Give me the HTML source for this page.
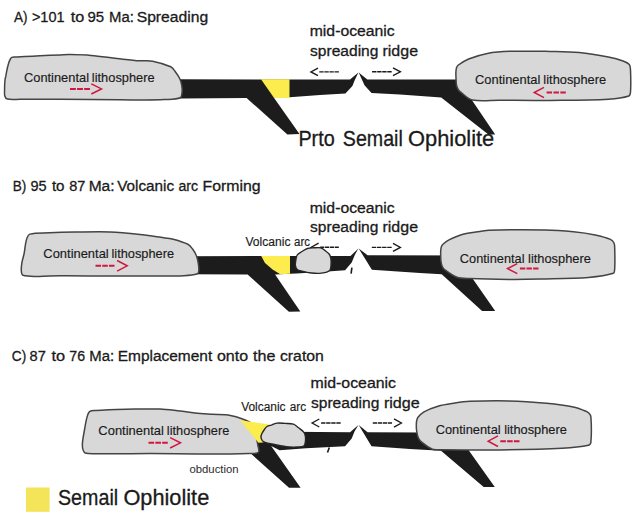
<!DOCTYPE html>
<html><head><meta charset="utf-8">
<style>
html,body{margin:0;padding:0;background:#fff;}
body{width:644px;height:525px;overflow:hidden;}
svg{display:block;}
text{font-family:"Liberation Sans",sans-serif;fill:#1a1a1a;stroke:#1a1a1a;stroke-width:0.3;}
.cont{fill:#d8d8d8;stroke:#444;stroke-width:1.5;stroke-linejoin:round;}
.arc{stroke:#262626;stroke-width:1.4;}
.slab{fill:#1c1c1c;}
text.med{stroke-width:0.15;}
text.thin{stroke-width:0;fill:#2a2a2a;}
.yel{fill:#fcec4e;}
.ar{fill:none;stroke:#1a1a1a;stroke-width:1.35;}
.da{fill:none;stroke:#1a1a1a;stroke-width:1.4;}
.rar{fill:none;stroke:#d0173f;stroke-width:1.5;}
.rda{fill:none;stroke:#d0173f;stroke-width:2;}
</style></head>
<body>
<svg width="644" height="525" viewBox="0 0 644 525">
<text x="13.92" y="22.4" font-size="15.2" textLength="13.49" lengthAdjust="spacingAndGlyphs">A)</text><text x="31.92" y="22.4" font-size="15.2" textLength="32.62" lengthAdjust="spacingAndGlyphs">&gt;101</text><text x="70.70" y="22.4" font-size="15.2" textLength="13.55" lengthAdjust="spacingAndGlyphs">to</text><text x="87.51" y="22.4" font-size="15.2" textLength="16.69" lengthAdjust="spacingAndGlyphs">95</text><text x="109.02" y="22.4" font-size="15.2" textLength="24.84" lengthAdjust="spacingAndGlyphs">Ma:</text><text x="136.68" y="22.4" font-size="15.2" textLength="71.49" lengthAdjust="spacingAndGlyphs">Spreading</text>
<path class="slab" d="M175.0,79.2 L350.0,79.6 L358.4,72.5 L354.8,80.0 L352.4,86.0 L345.4,93.5 L320.0,95.0 L289.5,97.3 L274.1,98.0 L299.5,133.9 L287.4,134.4 L246.6,98.0 L181.0,98.6 L175.0,98.6 Z"/>
<path class="yel" d="M261.0,79.2 L289.5,79.2 L289.5,98.0 L274.1,98.0 Z"/>
<path class="slab" d="M358.7,72.5 L367.3,79.6 L480.0,79.4 L480.0,99.4 L471.5,99.5 L495.2,134.4 L488.4,134.4 L441.2,97.4 L400.0,94.5 L371.5,93.1 L364.5,85.2 Z"/>
<path class="cont" d="M10.8,58.2 C11.4,57.3 12.9,57.1 14.0,57.0 C17.6,56.6 21.3,56.7 25.0,56.5 C30.0,56.3 35.0,56.0 40.0,55.8 C46.7,55.5 53.3,55.2 60.0,54.9 C63.3,54.8 66.7,54.5 70.0,54.6 C77.0,54.7 84.0,54.8 91.0,55.4 C99.7,56.1 108.3,57.5 117.0,58.5 C124.7,59.3 132.3,60.2 140.0,60.8 C144.2,61.1 148.5,60.4 152.6,61.2 C158.7,62.4 165.1,64.2 170.7,66.8 C172.8,67.8 174.1,70.1 175.5,72.0 C177.1,74.1 178.7,76.3 179.8,78.7 C180.8,80.8 181.3,83.1 181.7,85.3 C182.1,87.5 182.4,89.8 182.1,92.0 C181.9,94.0 181.8,97.0 180.2,97.7 C175.8,99.6 169.4,99.2 164.0,99.6 C157.7,100.0 151.3,100.0 145.0,100.0 C136.7,100.0 128.3,99.9 120.0,99.8 C100.0,99.6 80.0,99.4 60.0,99.3 C46.7,99.2 33.3,99.4 20.0,99.3 C15.8,99.3 11.3,99.9 7.5,99.1 C6.2,98.8 5.1,97.3 4.8,96.0 C4.2,93.6 4.6,90.7 4.6,88.0 C4.6,85.3 4.7,82.6 5.0,80.0 C5.1,78.7 5.5,77.5 5.8,76.2 C6.5,72.7 6.9,69.1 7.9,65.7 C8.6,63.1 9.4,60.2 10.8,58.2 Z"/>
<path class="cont" d="M455.9,72.0 C456.0,70.5 456.1,69.0 456.6,67.6 C456.9,66.6 457.6,65.6 458.4,65.0 C461.6,62.7 465.0,60.5 468.6,59.0 C474.6,56.6 480.9,54.6 487.3,53.4 C494.7,52.0 502.4,51.5 510.0,51.3 C523.3,50.9 536.7,51.2 550.0,51.4 C559.7,51.6 569.5,51.6 579.2,52.5 C589.0,53.4 598.7,55.1 608.4,57.0 C613.3,58.0 618.3,59.3 623.0,61.0 C625.2,61.8 627.9,62.8 629.3,64.5 C630.4,65.8 630.4,68.1 630.5,70.0 C630.8,77.3 631.0,84.8 630.5,92.0 C630.4,93.4 630.1,95.6 628.8,96.0 C622.7,98.0 615.3,98.8 608.4,99.2 C589.0,100.3 569.5,100.2 550.0,100.4 C533.3,100.6 516.7,100.3 500.0,100.2 C490.8,100.1 481.0,101.6 472.3,99.9 C468.0,99.0 464.6,95.1 461.0,92.4 C459.9,91.6 458.9,90.6 458.2,89.5 C457.4,88.2 456.8,86.6 456.5,85.0 C456.1,82.7 456.1,80.3 456.0,78.0 C455.9,76.0 455.8,74.0 455.9,72.0 Z"/>
<text x="23.97" y="82.2" font-size="12.2" textLength="65.04" lengthAdjust="spacingAndGlyphs" class="med">Continental</text><text x="91.87" y="82.2" font-size="12.2" textLength="62.72" lengthAdjust="spacingAndGlyphs" class="med">lithosphere</text>
<text x="475.07" y="83.9" font-size="12.2" textLength="65.24" lengthAdjust="spacingAndGlyphs" class="med">Continental</text><text x="543.37" y="83.9" font-size="12.2" textLength="62.82" lengthAdjust="spacingAndGlyphs" class="med">lithosphere</text>
<path class="rda" d="M70.0,88.9 H90.0" stroke-dasharray="5.87 1.20"/><path class="rar" d="M91.3,83.8 L101.5,88.9 L91.3,94.0"/>
<path class="rar" d="M544.0,87.3 L534.2,92.5 L544.0,97.7"/><path class="rda" d="M546.6,92.5 H565.8" stroke-dasharray="5.47 1.40"/>
<text x="309.72" y="36.2" font-size="15.2" textLength="85.02" lengthAdjust="spacingAndGlyphs">mid-oceanic</text>
<text x="310.04" y="55.9" font-size="15.2" textLength="68.39" lengthAdjust="spacingAndGlyphs">spreading</text><text x="382.51" y="55.9" font-size="15.2" textLength="35.55" lengthAdjust="spacingAndGlyphs">ridge</text>
<path class="ar" d="M318.0,68.1 L310.9,71.9 L318.0,75.7"/><path class="da" d="M319.3,71.9 H338.9" stroke-dasharray="4.37 0.70"/>
<path class="da" d="M372.1,71.8 H391.7" stroke-dasharray="4.37 0.70"/><path class="ar" d="M393.0,67.9 L400.4,71.8 L393.0,75.7"/>
<text x="298.40" y="145.7" font-size="21.2" textLength="36.37" lengthAdjust="spacingAndGlyphs">Prto</text><text x="342.80" y="145.7" font-size="21.2" textLength="60.04" lengthAdjust="spacingAndGlyphs">Semail</text><text x="408.13" y="145.7" font-size="21.2" textLength="86.12" lengthAdjust="spacingAndGlyphs">Ophiolite</text>
<text x="12.80" y="191.2" font-size="15.2" textLength="13.61" lengthAdjust="spacingAndGlyphs">B)</text><text x="30.52" y="191.2" font-size="15.2" textLength="16.17" lengthAdjust="spacingAndGlyphs">95</text><text x="51.90" y="191.2" font-size="15.2" textLength="12.62" lengthAdjust="spacingAndGlyphs">to</text><text x="69.22" y="191.2" font-size="15.2" textLength="16.17" lengthAdjust="spacingAndGlyphs">87</text><text x="88.68" y="191.2" font-size="15.2" textLength="25.93" lengthAdjust="spacingAndGlyphs">Ma:</text><text x="117.20" y="191.2" font-size="15.2" textLength="56.98" lengthAdjust="spacingAndGlyphs">Volcanic</text><text x="178.43" y="191.2" font-size="15.2" textLength="19.67" lengthAdjust="spacingAndGlyphs">arc</text><text x="202.46" y="191.2" font-size="15.2" textLength="58.08" lengthAdjust="spacingAndGlyphs">Forming</text>
<path class="slab" d="M190.0,256.2 L350.5,255.9 L358.4,248.5 L355.0,254.5 L351.7,262.5 L345.1,270.3 L331.0,271.3 L296.5,273.5 L290.0,273.8 L275.1,274.5 L300.3,311.5 L288.9,311.8 L247.6,274.4 L190.0,274.3 Z"/>
<path class="yel" d="M261.2,255.9 L290.0,255.9 L290.0,273.8 L280.2,274.3 L272.6,269.5 L265.0,262.9 Z"/>
<path class="slab" d="M358.7,248.5 L367.6,255.2 L480.0,255.5 L480.0,278.0 L472.2,278.0 L495.2,310.9 L482.1,310.9 L441.7,274.2 L420.0,273.0 L371.9,269.7 Z"/>
<path class="cont" d="M30.0,234.1 C35.6,232.4 42.9,233.1 49.3,232.8 C57.9,232.4 66.4,232.2 75.0,232.1 C86.7,231.9 98.4,231.5 110.0,231.9 C120.0,232.3 130.0,233.4 140.0,234.5 C148.4,235.4 156.7,236.9 165.0,238.0 C167.0,238.3 169.1,238.2 171.0,238.7 C176.7,240.3 182.7,241.8 187.9,244.3 C189.9,245.2 191.3,247.2 192.6,249.0 C194.1,251.0 195.5,253.3 196.4,255.7 C197.4,258.1 197.9,260.7 198.3,263.3 C198.7,265.8 199.0,268.5 198.8,271.0 C198.7,272.0 198.3,273.5 197.4,273.8 C193.4,275.1 188.5,275.5 184.0,275.7 C172.7,276.2 161.3,276.0 150.0,276.0 C136.7,276.1 123.3,276.0 110.0,276.0 C93.3,276.0 76.7,275.7 60.0,275.8 C52.6,275.8 45.3,276.5 37.9,276.4 C32.9,276.3 27.2,276.7 23.0,275.3 C21.6,274.8 21.4,272.3 21.3,270.7 C21.1,268.1 21.5,265.3 21.9,262.7 C22.4,259.6 23.5,256.7 24.1,253.6 C25.0,249.1 25.1,244.3 26.4,239.9 C27.0,237.8 28.0,234.7 30.0,234.1 Z"/>
<path class="cont" d="M440.7,251.0 C440.8,249.7 440.9,248.3 441.3,247.0 C441.6,246.0 442.2,244.9 443.0,244.2 C444.8,242.6 446.8,241.0 449.0,239.9 C453.5,237.7 458.2,235.6 463.0,234.3 C468.5,232.8 474.3,232.5 480.0,231.6 C483.0,231.1 486.0,230.3 489.0,230.2 C507.6,229.7 526.3,229.6 545.0,230.0 C554.5,230.2 564.0,230.9 573.5,231.8 C580.8,232.5 588.1,233.5 595.2,235.0 C600.4,236.1 605.7,237.4 610.4,239.4 C611.9,240.0 613.3,241.6 614.0,243.0 C614.7,244.4 614.7,246.3 614.7,248.0 C614.9,254.8 615.1,261.7 614.7,268.5 C614.6,270.2 614.7,272.8 613.3,273.3 C606.0,275.8 596.8,276.8 588.5,277.4 C572.4,278.7 556.2,278.6 540.0,279.0 C529.7,279.3 519.5,279.5 509.2,279.4 C496.1,279.3 483.0,279.1 470.0,278.6 C465.6,278.4 461.0,278.6 457.0,277.2 C452.5,275.6 448.4,272.4 444.5,269.5 C443.4,268.7 442.7,267.4 442.2,266.2 C441.6,264.7 441.2,263.1 441.0,261.5 C440.7,259.7 440.8,257.8 440.7,256.0 C440.7,254.3 440.6,252.7 440.7,251.0 Z"/>
<text x="43.37" y="257.6" font-size="12.2" textLength="65.34" lengthAdjust="spacingAndGlyphs" class="med">Continental</text><text x="111.47" y="257.6" font-size="12.2" textLength="62.62" lengthAdjust="spacingAndGlyphs" class="med">lithosphere</text>
<text x="459.88" y="262.8" font-size="12.2" textLength="64.63" lengthAdjust="spacingAndGlyphs" class="med">Continental</text><text x="528.07" y="262.8" font-size="12.2" textLength="62.82" lengthAdjust="spacingAndGlyphs" class="med">lithosphere</text>
<path class="rda" d="M95.5,265.8 H114.5" stroke-dasharray="5.53 1.20"/><path class="rar" d="M117.1,260.5 L127.2,265.8 L117.1,271.1"/>
<path class="rar" d="M517.3,263.6 L507.5,268.6 L517.3,273.6"/><path class="rda" d="M519.9,268.6 H538.5" stroke-dasharray="5.40 1.20"/>
<text x="309.72" y="212.6" font-size="15.2" textLength="85.02" lengthAdjust="spacingAndGlyphs">mid-oceanic</text>
<text x="310.04" y="232.3" font-size="15.2" textLength="68.39" lengthAdjust="spacingAndGlyphs">spreading</text><text x="382.51" y="232.3" font-size="15.2" textLength="35.55" lengthAdjust="spacingAndGlyphs">ridge</text>
<path class="ar" d="M318.6,243.2 L310.9,247.4 L318.6,251.6"/><path class="da" d="M320.2,247.2 H338.8" stroke-dasharray="4.13 0.70"/>
<path class="da" d="M371.8,247.4 H391.7" stroke-dasharray="4.45 0.70"/><path class="ar" d="M393.0,243.4 L400.4,247.4 L393.0,251.4"/>
<path class="cont arc" d="M295.4,265.6 C295.1,263.9 295.5,262.0 295.8,260.2 C296.1,258.4 296.3,256.2 297.3,254.8 C298.3,253.3 300.4,252.5 302.0,251.5 C303.7,250.4 305.5,249.1 307.4,248.5 C309.3,247.9 311.5,247.9 313.6,247.8 C315.9,247.7 318.4,247.3 320.6,247.8 C322.0,248.1 323.3,249.2 324.5,250.1 C326.1,251.3 327.9,252.5 329.1,254.0 C330.0,255.1 330.4,256.5 330.7,257.9 C331.1,259.6 331.2,261.5 331.1,263.3 C331.0,265.4 331.1,267.8 330.3,269.5 C329.7,270.7 328.2,271.7 326.8,272.2 C324.4,273.0 321.7,273.3 319.1,273.4 C316.5,273.5 313.9,273.3 311.3,273.0 C308.2,272.6 305.1,271.9 302.0,271.1 C300.4,270.7 298.5,270.5 297.3,269.5 C296.3,268.6 295.6,267.0 295.4,265.6 Z"/>
<text x="245.45" y="246.1" font-size="12" textLength="45.00" lengthAdjust="spacingAndGlyphs" class="med">Volcanic</text><text x="294.06" y="246.1" font-size="12" textLength="15.96" lengthAdjust="spacingAndGlyphs" class="med">arc</text>
<path d="M351.1,273.6 L351.9,267.6" stroke="#1c1c1c" stroke-width="1.6"/>
<text x="11.85" y="361.4" font-size="15.2" textLength="14.35" lengthAdjust="spacingAndGlyphs">C)</text><text x="29.62" y="361.4" font-size="15.2" textLength="16.27" lengthAdjust="spacingAndGlyphs">87</text><text x="51.40" y="361.4" font-size="15.2" textLength="13.65" lengthAdjust="spacingAndGlyphs">to</text><text x="69.33" y="361.4" font-size="15.2" textLength="15.74" lengthAdjust="spacingAndGlyphs">76</text><text x="89.32" y="361.4" font-size="15.2" textLength="24.84" lengthAdjust="spacingAndGlyphs">Ma:</text><text x="117.68" y="361.4" font-size="15.2" textLength="94.58" lengthAdjust="spacingAndGlyphs">Emplacement</text><text x="216.97" y="361.4" font-size="15.2" textLength="31.16" lengthAdjust="spacingAndGlyphs">onto</text><text x="253.00" y="361.4" font-size="15.2" textLength="22.40" lengthAdjust="spacingAndGlyphs">the</text><text x="279.98" y="361.4" font-size="15.2" textLength="43.87" lengthAdjust="spacingAndGlyphs">craton</text>
<path class="slab" d="M255.0,431.5 L350.1,432.3 L358.4,424.9 L354.5,431.5 L351.7,438.5 L345.1,446.3 L306.0,448.2 L279.6,450.3 L271.2,446.0 L300.6,487.7 L289.0,487.7 L250.8,453.6 L245.0,445.0 Z"/>
<path class="slab" d="M358.7,424.9 L367.6,432.3 L480.0,432.8 L480.0,449.6 L468.3,449.8 L494.8,487.0 L483.7,487.0 L441.0,450.8 L432.4,450.3 L410.0,449.0 L371.5,446.3 Z"/>
<path class="cont" d="M89.5,411.6 C91.1,410.5 93.8,410.7 96.0,410.5 C100.4,410.1 104.9,409.9 109.3,409.7 C117.9,409.4 126.4,409.3 135.0,409.1 C138.2,409.0 141.3,409.0 144.5,409.0 C149.7,409.0 154.8,408.7 160.0,409.0 C166.7,409.4 173.3,410.3 180.0,411.0 C185.0,411.6 190.0,412.4 195.0,412.9 C200.7,413.5 206.3,413.8 212.0,414.2 C218.1,414.6 224.4,414.1 230.4,415.4 C237.1,416.8 244.2,419.0 249.9,422.2 C251.7,423.2 252.2,426.0 253.0,428.0 C254.4,431.2 255.5,434.6 256.5,438.0 C257.1,440.3 257.4,442.7 257.8,445.0 C258.2,447.2 259.3,449.8 258.8,451.6 C258.6,452.5 256.9,453.1 255.7,453.2 C243.9,453.9 231.9,454.0 220.0,454.0 C196.7,454.1 173.3,453.7 150.0,453.6 C132.6,453.6 115.3,453.9 97.9,453.7 C93.6,453.7 88.7,454.2 85.0,453.0 C83.7,452.6 83.2,450.4 82.8,449.0 C82.3,447.2 82.3,445.3 82.4,443.4 C82.7,439.6 83.4,435.8 84.1,432.0 C85.0,427.0 85.7,422.0 87.0,417.1 C87.5,415.2 88.1,412.7 89.5,411.6 Z"/>
<path class="yel" d="M240.0,420.3 L269.7,424.6 L262.7,432.2 L261.1,437.6 L263.5,442.5 L258.5,442.8 Z"/>
<path class="cont arc" d="M261.0,437.2 C260.9,436.1 261.3,434.9 261.8,433.8 C262.5,432.3 263.4,430.9 264.4,429.5 C265.2,428.4 265.9,427.2 267.0,426.5 C268.5,425.6 270.4,425.4 272.1,424.8 C273.8,424.2 275.4,423.3 277.2,423.1 C279.7,422.8 282.3,423.2 284.9,423.4 C287.7,423.6 290.8,423.4 293.4,424.2 C295.3,424.8 296.9,426.5 298.6,427.8 C300.4,429.2 302.4,430.4 303.7,432.1 C304.6,433.2 305.1,434.8 305.4,436.3 C305.7,438.0 305.6,439.8 305.4,441.5 C305.2,442.9 305.1,445.0 304.1,445.7 C302.6,446.8 299.9,446.8 297.7,447.0 C294.9,447.2 292.0,447.2 289.2,447.0 C286.3,446.8 283.5,446.2 280.6,445.7 C277.8,445.2 274.9,444.6 272.1,444.0 C269.8,443.5 267.4,443.1 265.2,442.3 C264.2,441.9 263.0,441.4 262.3,440.6 C261.6,439.7 261.1,438.4 261.0,437.2 Z"/>
<path class="cont" d="M416.3,426.0 C416.3,424.3 416.3,422.6 416.6,421.0 C416.9,419.7 417.2,418.3 418.0,417.3 C419.7,415.2 421.7,413.1 424.0,411.8 C428.3,409.4 433.2,407.6 438.0,406.2 C443.5,404.6 449.3,403.9 455.0,403.0 C460.0,402.2 465.0,401.5 470.0,401.3 C482.9,400.8 495.9,400.6 508.8,400.9 C521.4,401.2 534.0,402.1 546.6,403.3 C555.9,404.2 565.3,405.4 574.5,407.2 C577.8,407.8 580.9,409.2 584.0,410.5 C585.7,411.2 587.5,411.8 588.8,413.0 C589.8,414.0 590.8,415.5 590.9,417.0 C591.5,425.2 591.6,433.9 590.9,442.0 C590.8,443.3 589.8,444.9 588.5,445.2 C580.2,447.0 570.9,447.8 562.1,448.3 C541.4,449.4 520.7,449.7 500.0,449.9 C480.0,450.1 460.0,449.9 440.0,449.7 C437.5,449.7 434.7,450.3 432.4,449.3 C428.3,447.5 424.3,444.3 420.8,441.4 C419.6,440.4 418.8,438.9 418.2,437.5 C417.5,435.8 417.1,433.9 416.8,432.0 C416.5,430.0 416.3,428.0 416.3,426.0 Z"/>
<text x="98.37" y="435.2" font-size="12.2" textLength="65.44" lengthAdjust="spacingAndGlyphs" class="med">Continental</text><text x="166.88" y="435.2" font-size="12.2" textLength="62.42" lengthAdjust="spacingAndGlyphs" class="med">lithosphere</text>
<text x="435.67" y="433.6" font-size="12.2" textLength="65.04" lengthAdjust="spacingAndGlyphs" class="med">Continental</text><text x="504.17" y="433.6" font-size="12.2" textLength="62.72" lengthAdjust="spacingAndGlyphs" class="med">lithosphere</text>
<path class="rda" d="M148.5,442.8 H167.8" stroke-dasharray="5.63 1.20"/><path class="rar" d="M170.1,437.6 L180.5,442.8 L170.1,448.0"/>
<path class="rar" d="M498.0,435.9 L488.2,441.2 L498.0,446.5"/><path class="rda" d="M500.3,441.2 H519.5" stroke-dasharray="5.60 1.20"/>
<text x="310.52" y="387.6" font-size="15.2" textLength="85.53" lengthAdjust="spacingAndGlyphs">mid-oceanic</text>
<text x="310.94" y="408" font-size="15.2" textLength="68.39" lengthAdjust="spacingAndGlyphs">spreading</text><text x="383.90" y="408" font-size="15.2" textLength="35.86" lengthAdjust="spacingAndGlyphs">ridge</text>
<path class="ar" d="M319.3,419.0 L312.1,423.0 L319.3,427.0"/><path class="da" d="M321.1,423.0 H340.7" stroke-dasharray="4.37 0.70"/>
<path class="da" d="M372.8,423.0 H392.0" stroke-dasharray="4.27 0.70"/><path class="ar" d="M394.0,418.9 L401.4,423.0 L394.0,427.1"/>
<text x="241.14" y="411.3" font-size="12.3" textLength="44.42" lengthAdjust="spacingAndGlyphs" class="med">Volcanic</text><text x="289.66" y="411.3" font-size="12.3" textLength="16.43" lengthAdjust="spacingAndGlyphs" class="med">arc</text>
<path d="M327.5,452.4 L329.3,447.4" stroke="#1c1c1c" stroke-width="1.6"/>
<text x="189.54" y="472.6" font-size="11" textLength="48.94" lengthAdjust="spacingAndGlyphs" class="thin">obduction</text>
<rect x="26" y="487.5" width="23.6" height="24.3" fill="#f4e45a"/>
<text x="58.00" y="505" font-size="21.2" textLength="60.14" lengthAdjust="spacingAndGlyphs">Semail</text><text x="123.43" y="505" font-size="21.2" textLength="85.81" lengthAdjust="spacingAndGlyphs">Ophiolite</text>
</svg>
</body></html>
